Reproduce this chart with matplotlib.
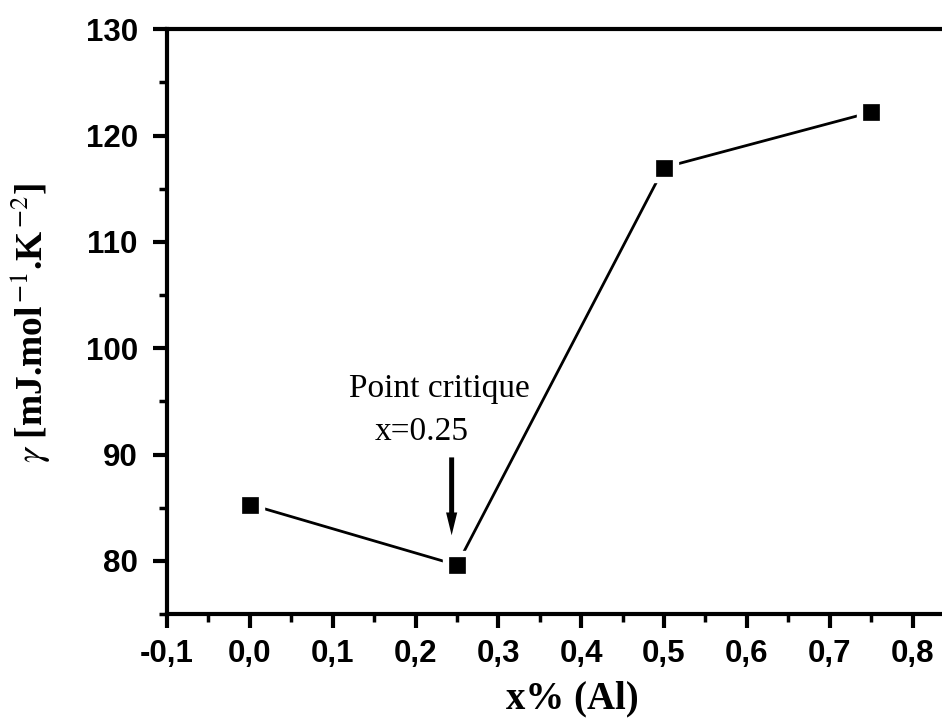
import matplotlib
matplotlib.use("Agg")
import matplotlib.pyplot as plt
from matplotlib.ticker import MultipleLocator, FuncFormatter

# data
x_al = [0.0, 0.25, 0.5, 0.75]
gamma = [85.3, 79.6, 117.0, 122.2]

plt.rcParams['mathtext.fontset'] = 'stix'

fig = plt.figure(figsize=(9.42, 7.22), dpi=100)
# axes run a little past the right edge of the picture, like the original crop
ax = fig.add_axes([167 / 942, 108 / 722, (954 - 167) / 942, (614 - 29.3) / 722])

ax.plot(x_al, gamma, color='black', lw=2.0, zorder=2)
ax.plot(x_al, gamma, ls='none', marker='s', ms=19.5, mfc='white', mec='white', zorder=3)
ax.plot(x_al, gamma, ls='none', marker='s', ms=12.2, mfc='black', mec='black', mew=0.5, zorder=4)

ax.set_xlim(-0.1, 0.85)
ax.set_ylim(75, 130)

ax.xaxis.set_major_locator(MultipleLocator(0.1))
ax.xaxis.set_minor_locator(MultipleLocator(0.05))
ax.yaxis.set_major_locator(MultipleLocator(10))
ax.yaxis.set_minor_locator(MultipleLocator(5))
ax.xaxis.set_major_formatter(FuncFormatter(lambda v, p: f"{v:.1f}".replace('.', ',').replace('-0,0', '0,0')))
ax.yaxis.set_major_formatter(FuncFormatter(lambda v, p: f"{v:.0f}"))

for s in ax.spines.values():
    s.set_linewidth(3)
ax.tick_params(which='major', direction='out', length=10, width=3)
ax.tick_params(which='minor', direction='out', length=5.8, width=2.5)
ax.tick_params(axis='y', which='both', pad=11)
ax.tick_params(axis='x', which='both', pad=8)
ax.tick_params(top=False, right=False)

for lab in ax.get_xticklabels() + ax.get_yticklabels():
    lab.set_fontfamily('Liberation Sans')
    lab.set_fontweight('bold')
    lab.set_fontsize(22.5)

ax.set_xlabel('x% (Al)', fontfamily='Liberation Serif', fontweight='bold', fontsize=28)
ax.xaxis.set_label_coords((572 - 167) / 787, (614 - 680) / 585)

fig.text(31 / 942, 1 - 323 / 722, r'$\gamma$ [mJ.mol$^{\,\mathrm{-1}}$.K$^{\,\mathrm{-2}}$]',
         rotation=90, ha='center', va='center',
         fontfamily='Liberation Serif', fontweight='bold', fontsize=27)

ax.text(0.1196, 95.38, 'Point critique', fontfamily='Liberation Serif', fontsize=24,
        ha='left', va='baseline')
ax.text(0.151, 91.33, 'x=0.25', fontfamily='Liberation Serif', fontsize=24,
        ha='left', va='baseline')
ax.arrow(0.2436, 89.73, 0, 82.4 - 89.73, width=0.006, head_width=0.0135, head_length=2.15,
         length_includes_head=True, color='black', lw=0, zorder=5)

fig.savefig('out.png', dpi=100)
